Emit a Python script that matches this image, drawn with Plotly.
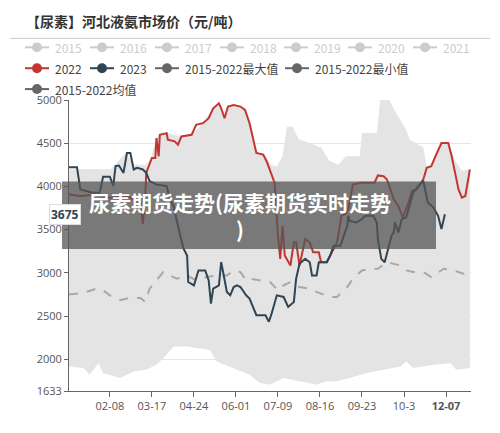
import plotly.graph_objects as go

# ---- data (x = day index, y = 元/吨) ----
tick_days = [39, 76, 113, 150, 187, 224, 261, 298, 335]
tick_text = ["02-08", "03-17", "04-24", "06-01", "07-09", "08-16", "09-23", "10-3", "<b>12-07</b>"]

y2023_x = [3, 10, 13, 24, 30, 33, 39, 42, 44, 47, 51, 54, 57, 60, 63, 68, 71, 74, 80, 89, 92, 95, 101, 104, 107, 108, 113, 117, 123, 126, 128, 130, 135, 137, 139, 142, 145, 148, 151, 154, 159, 162,
           168, 176, 179, 181, 186, 192, 196, 201, 203, 206, 211, 215, 217, 221, 223, 230, 233, 236, 242, 245, 248, 249, 250, 256, 261, 264, 271, 274, 275, 278, 281, 284, 287, 289, 290, 293, 296, 300, 306, 312, 315, 319, 324, 328, 331, 334]
y2023 = [4223, 4223, 3966, 3928, 3928, 4112, 4112, 4004, 4234, 4242, 4157, 4387, 4387, 4196, 4215, 4196, 4157, 4062, 4023, 4004, 3851, 3774, 3430, 3276, 3200, 2894, 2855, 3028, 3028, 2913, 2645, 2817, 2855, 3123, 2989, 2779, 2740, 2836, 2855, 2836, 2740, 2702,
         2510, 2510, 2434, 2510, 2740, 2721, 2606, 2664, 2932, 3104, 3162, 3123, 2970, 2970, 3123, 3123, 3200, 3315, 3315, 3430, 3545, 3660, 3602, 3583, 3621, 3660, 3660, 3583, 3391, 3162, 3123, 3277, 3430, 3468, 3583, 3468, 3621, 3640, 3928, 4023, 4062, 3813, 3755, 3660, 3506, 3679]

y2022_x = [3, 13, 24, 39, 54, 60, 66, 68, 70, 71, 76, 79, 80, 82, 83, 89, 90, 96, 99, 102, 111, 115, 121, 126, 130, 135, 137, 140, 143, 148, 154, 158, 162,
           168, 174, 177, 181, 184, 187, 189, 191, 193, 198, 201, 203, 206, 211, 215, 218, 223, 225, 230, 233, 239, 243, 246, 249, 253, 259, 272, 275, 280, 283, 289, 293, 297, 302, 305, 309, 315, 318, 322, 327, 331, 337, 340, 343, 346, 349, 352, 355, 356]
y2022 = [3908, 3889, 3900, 3870, 3889, 3851, 3813, 3564, 3851, 4157, 4330, 4330, 4560, 4349, 4598, 4617, 4540, 4521, 4483, 4579, 4598, 4713, 4732, 4789, 4904, 4962, 4904, 4789, 4924, 4943, 4924, 4885, 4732,
         4387, 4368, 4292, 4157, 4043, 3430, 3162, 3545, 3200, 3085, 3353, 3353, 3085, 3391, 3353, 3238, 3238, 3123, 3123, 3200, 3353, 3660, 3679, 3736, 4023, 4043, 4043, 4127, 4119, 4081, 3851, 3774, 3640, 3813, 3947, 3966, 4081, 4215, 4234, 4387, 4502, 4502, 4349, 4157, 3966, 3870, 3889, 4119, 4196]

mean_x = [3, 16, 27, 33, 39, 48, 54, 66, 70, 74, 80, 86, 92, 98, 107, 115, 124, 133, 142, 148, 154, 159,
          162, 171, 180, 187, 192, 198, 206, 215, 221, 233, 239, 248, 253, 261, 268, 275, 283, 289, 295, 300, 306, 315, 322, 333, 342, 350, 356]
mean_y = [2748, 2771, 2817, 2798, 2740, 2683, 2702, 2710, 2664, 2817, 2913, 3009, 2970, 2932, 2970, 2913, 2951, 2970, 2970, 3028, 3009, 2913,
          2932, 2913, 2894, 2798, 2855, 2894, 2836, 2817, 2779, 2721, 2721, 2836, 2932, 3028, 3047, 3047, 3123, 3104, 3085, 3028, 3009, 3009, 2951, 3047, 3028, 2989, 3009]

max_x = [3, 40, 53, 60, 71, 75, 80, 83, 90, 100, 111, 121, 130, 135, 140, 143, 153, 158, 162, 168, 175, 181, 186, 191, 195, 200, 205, 215, 225, 232, 240, 247, 259, 261, 274, 277, 283, 289, 293, 300, 303, 315, 318, 322, 327, 331, 337, 343, 349, 356]
max_y = [4200, 4200, 4390, 4250, 4250, 4330, 4560, 4600, 4617, 4580, 4600, 4732, 4904, 4962, 4800, 4924, 4924, 4885, 4732, 4390, 4370, 4250, 4230, 4350, 4690, 4690, 4550, 4500, 4450, 4300, 4250, 4349, 4349, 4617, 4617, 5000, 5050, 4900, 4809, 4650, 4540, 4450, 4234, 4240, 4390, 4502, 4502, 4300, 4180, 4200]

min_x = [3, 16, 21, 29, 33, 48, 54, 60, 71, 80, 86, 95, 107, 127, 133, 148, 162, 171, 180, 192, 206, 221, 230, 239, 250, 265, 280, 295, 300, 306, 324, 339, 344, 356]
min_y = [1917, 1898, 1821, 1955, 1840, 1783, 1821, 1859, 1879, 1936, 2013, 2147, 2147, 2108, 1974, 1898, 1821, 1725, 1706, 1783, 1745, 1706, 1745, 1745, 1783, 1840, 1879, 1917, 1974, 1898, 1936, 1955, 1879, 1898]

RED, NAVY = "#c23531", "#2f4554"
OFF = 8  # page body margin
W, H = 500 - 2 * OFF, 433 - 2 * OFF
L, R, T, B = 69, 471, 100, 393  # plot area in screenshot pixels


def px(x):
    return (x - L) / (R - L)


def py(y):
    return (B - y) / (B - T)


fig = go.Figure()
fig.add_trace(go.Scatter(x=max_x, y=max_y, mode="lines", line=dict(width=0, color="#e4e4e4"), hoverinfo="skip"))
fig.add_trace(go.Scatter(x=min_x, y=min_y, mode="lines", line=dict(width=0, color="#e4e4e4"),
                         fill="tonexty", fillcolor="#e4e4e4", hoverinfo="skip"))
fig.add_trace(go.Scatter(x=mean_x, y=mean_y, mode="lines", line=dict(color="#a8a8a8", width=2, dash="dash")))
fig.add_trace(go.Scatter(x=y2022_x, y=y2022, mode="lines", line=dict(color=RED, width=2)))
fig.add_trace(go.Scatter(x=y2023_x, y=y2023, mode="lines", line=dict(color=NAVY, width=2)))

shapes, ann = [], []
ann.append(dict(x=px(24), y=py(20), xref="paper", yref="paper", xanchor="left", yanchor="middle", showarrow=False,
                text="<b>【尿素】河北液氨市场价（元/吨）</b>", font=dict(size=14, color="#333", family="Noto Sans CJK SC")))
shapes.append(dict(type="line", xref="paper", yref="paper", x0=px(10), x1=px(490), y0=py(38), y1=py(38),
                   line=dict(color="#cccccc", width=1)))

legend_items = [
    (37, 47, "2015", "#cccccc", "#cccccc"), (102, 47, "2016", "#cccccc", "#cccccc"), (167, 47, "2017", "#cccccc", "#cccccc"),
    (232, 47, "2018", "#cccccc", "#cccccc"), (296, 47, "2019", "#cccccc", "#cccccc"), (360, 47, "2020", "#cccccc", "#cccccc"),
    (425, 47, "2021", "#cccccc", "#cccccc"),
    (37, 68, "2022", RED, "#444"), (102, 68, "2023", NAVY, "#444"), (167, 68, "2015-2022最大值", "#666", "#444"),
    (297, 68, "2015-2022最小值", "#666", "#444"), (37, 89, "2015-2022均值", "#666", "#444"),
]
for mx, my, label, c, tc in legend_items:
    shapes.append(dict(type="line", xref="paper", yref="paper", x0=px(mx - 12), x1=px(mx + 12), y0=py(my), y1=py(my),
                       line=dict(color=c, width=2)))
    shapes.append(dict(type="circle", xref="paper", yref="paper", x0=px(mx - 5), x1=px(mx + 5), y0=py(my - 5), y1=py(my + 5),
                       fillcolor=c, line=dict(width=0)))
    ann.append(dict(x=px(mx + 16), y=py(my), xref="paper", yref="paper", xanchor="left", yanchor="middle", showarrow=False,
                    text=label, font=dict(size=12, color=tc, family="Noto Sans CJK SC")))

ann.append(dict(x=px(49), y=3675, xref="paper", yref="y", showarrow=False, text="<b>3675</b>",
                font=dict(size=12, color=NAVY, family="Open Sans"), bgcolor="white", bordercolor="#dddddd", borderwidth=1,
                borderpad=1))

shapes.append(dict(type="rect", xref="paper", yref="paper", x0=px(62), x1=px(436), y0=py(182), y1=py(250),
                   fillcolor="rgba(85,85,85,0.75)", line=dict(width=0), layer="above"))
ann.append(dict(x=px(240), y=py(216), xref="paper", yref="paper", showarrow=False,
                text="<b>尿素期货走势(尿素期货实时走势<br>)</b>",
                font=dict(size=21, color="white", family="Noto Sans CJK SC")))

fig.update_layout(
    width=W, height=H, margin=dict(l=L - OFF, r=W - (R - OFF), t=T - OFF, b=H - (B - OFF)),
    paper_bgcolor="white", plot_bgcolor="white", showlegend=False,
    shapes=shapes, annotations=ann,
    xaxis=dict(range=[3, 357], tickvals=tick_days, ticktext=tick_text, showgrid=False, showline=True,
               linecolor="#666", ticks="outside", tickcolor="#666", ticklen=5,
               tickfont=dict(size=11, color="#555", family="Open Sans"), zeroline=False),
    yaxis=dict(range=[1633, 5000], tickvals=[1633, 2000, 2500, 3000, 3500, 4000, 4500, 5000],
               showgrid=True, gridcolor="#e6e6e6", showline=True, linecolor="#666", ticks="outside",
               tickcolor="#666", ticklen=4, tickfont=dict(size=11, color="#555", family="Open Sans"), zeroline=False),
)
fig.write_html("out.html")
